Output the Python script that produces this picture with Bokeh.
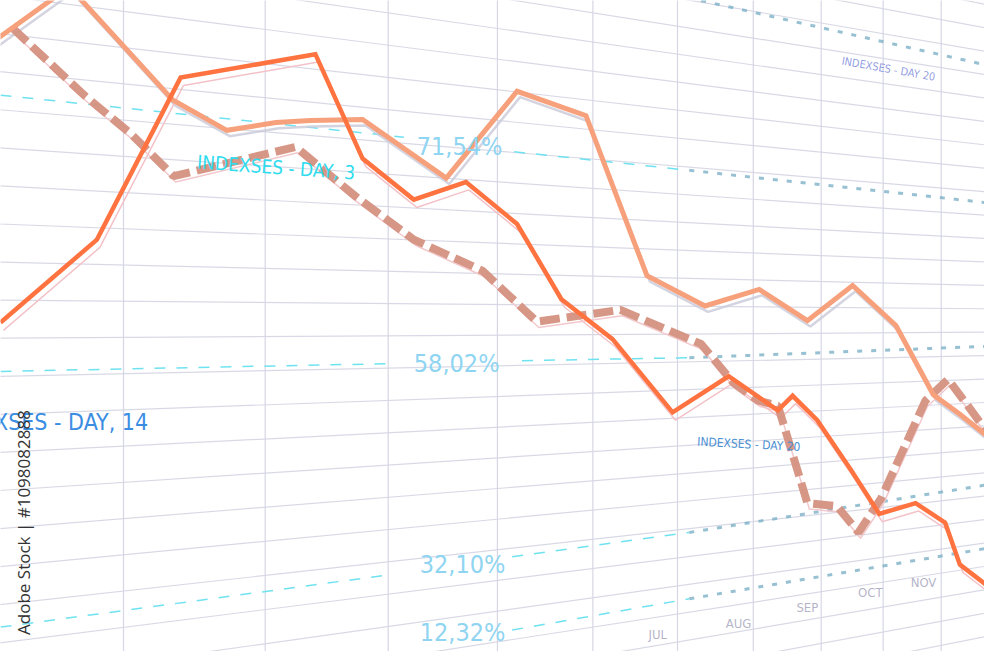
import math
from bokeh.plotting import figure
from bokeh.models import Range1d
from bokeh.core.properties import value
from bokeh.embed import file_html
from bokeh.resources import INLINE

# ---------------- data (pixel space) ----------------
# Series A: light salmon solid line
a_x = [-10, 70, 175, 230, 280, 315, 368, 453, 525, 595, 657, 716, 771, 820, 866, 910, 948, 975, 1010]
a_y = [44, -14, 102, 133, 125, 123, 122, 182, 93, 118, 282, 313, 296, 328, 292, 333, 404, 424, 452]

# Series B: orange solid line
b_x = [0, 98, 183, 320, 368, 420, 473, 525, 570, 622, 683, 740, 790, 805, 830, 865, 893, 930, 960, 975, 1010]
b_y = [330, 245, 79, 55, 162, 204, 186, 229, 306, 347, 422, 385, 420, 405, 430, 482, 526, 515, 535, 578, 605]

# Series C: dusty dashed line
c_x = [12, 85, 133, 176, 300, 360, 420, 490, 545, 630, 712, 745, 770, 790, 820, 850, 872, 895, 940, 963, 1010]
c_y = [28, 97, 137, 180, 150, 200, 245, 277, 329, 317, 352, 392, 410, 415, 515, 518, 545, 510, 410, 388, 452]

# Reference (percentage) levels
pct_labels = ["71,54%", "58,02%", "32,10%", "12,32%"]
pct_x = [423, 420, 426, 426]
pct_y = [150, 372, 578, 648]

ref_near_x0 = [0, 522, 0, 530, 0, 520, 520]
ref_near_y0 = [97, 155, 380, 369, 642, 570, 645]
ref_near_x1 = [410, 700, 400, 700, 398, 700, 700]
ref_near_y1 = [140, 174, 372, 366, 588, 545, 613]

ref_far_x0 = [700, 700, 700, 700, 712]
ref_far_y0 = [174, 366, 545, 613, 0]
ref_far_x1 = [1010, 1010, 1010, 1010, 1010]
ref_far_y1 = [208, 354, 495, 560, 68]

# Perspective grid
vanish_x, vanish_y = 2600, 330
grid_left_y = [-200 + 39 * k for k in range(29)]
grid_vert_x = [125, 269, 394, 505, 602, 688, 765, 834, 897, 956]

# Annotations
months = ["JUL", "AUG", "SEP", "OCT", "NOV"]
month_x = [668, 750, 820, 884, 938]
month_y = [650, 638, 622, 607, 596]

# ---------------- figure ----------------
p = figure(width=984, height=651, output_backend="svg", toolbar_location=None,
           x_range=Range1d(0, 1000), y_range=Range1d(667, 0),
           min_border=0, x_axis_type=None, y_axis_type=None)
p.grid.visible = False
p.outline_line_color = None
p.background_fill_color = "white"

NARROW = "DejaVu Sans Condensed"

# horizontal perspective grid lines
gx0 = [-20 for _ in grid_left_y]
gx1 = [1020 for _ in grid_left_y]
gy0 = [y + (vanish_y - y) * (-20 / vanish_x) for y in grid_left_y]
gy1 = [y + (vanish_y - y) * (1020 / vanish_x) for y in grid_left_y]
p.segment(x0=gx0, y0=gy0, x1=gx1, y1=gy1, line_color="#d9d9e6", line_width=1.2)

# vertical grid lines
p.segment(x0=grid_vert_x, y0=[-20] * len(grid_vert_x), x1=grid_vert_x,
          y1=[700] * len(grid_vert_x), line_color="#d6d6e4", line_width=1.2)

# reference dashed lines
p.segment(x0=ref_near_x0, y0=ref_near_y0, x1=ref_near_x1, y1=ref_near_y1,
          line_color="#6fe2f0", line_width=1.5, line_dash="11 11")
p.segment(x0=ref_far_x0, y0=ref_far_y0, x1=ref_far_x1, y1=ref_far_y1,
          line_color="#74acc4", line_width=3, line_dash="5 9", line_alpha=0.75)

# shadows of the series
p.line([x + 3 for x in a_x], [y + 6 for y in a_y], line_color="#c9c9da", line_width=2.5, line_alpha=0.8)
p.line([x + 3 for x in b_x], [y + 8 for y in b_y], line_color="#f3c2c8", line_width=1.5)
p.line([x + 2 for x in c_x], [y + 6 for y in c_y], line_color="#f3c8cc", line_width=1.5)

# series
p.line(c_x, c_y, line_color="#d5917f", line_width=8, line_dash="20 7", line_alpha=0.95)
p.line(a_x, a_y, line_color="#f7a07c", line_width=5, line_join="miter")
p.line(b_x, b_y, line_color="#ff7340", line_width=4.5, line_join="miter")

# percentage labels
p.text(x=pct_x, y=pct_y, text=pct_labels, text_font=value(NARROW),
       text_font_size="25px", text_color="#8fd5f2", text_baseline="middle", text_align="left")

# index labels
p.text(x=[150], y=[432], text=["INDEXSES - DAY, 14"], text_font=value(NARROW),
       text_font_size="23px", text_color="#3b8de2", text_baseline="middle", text_align="right")
p.text(x=[200], y=[165], text=["INDEXSES - DAY, 3"], text_font=value(NARROW),
       text_font_size="19px", text_color="#2fdcee", text_baseline="middle", text_align="left",
       angle=-math.radians(4))
p.text(x=[708], y=[452], text=["INDEXSES - DAY 20"], text_font=value(NARROW),
       text_font_size="12px", text_color="#4a8fd2", text_baseline="middle", text_align="left",
       angle=-math.radians(3))
p.text(x=[855], y=[62], text=["INDEXSES - DAY 20"], text_font=value(NARROW),
       text_font_size="11px", text_color="#6c7bd6", text_baseline="middle", text_align="left",
       text_alpha=0.75, angle=-math.radians(10))

# months
p.text(x=month_x, y=month_y, text=months, text_font=value(NARROW),
       text_font_size="13px", text_color="#a6a6bd", text_baseline="middle", text_align="center",
       text_alpha=0.85)

# vertical watermark
p.text(x=[23], y=[650], text=["Adobe Stock | #1098082888"], text_font=value("Open Sans"),
       text_font_size="17px", text_color="#333333", text_baseline="middle", text_align="left",
       angle=math.pi / 2)

open("out.html", "w").write(file_html(p, INLINE))
